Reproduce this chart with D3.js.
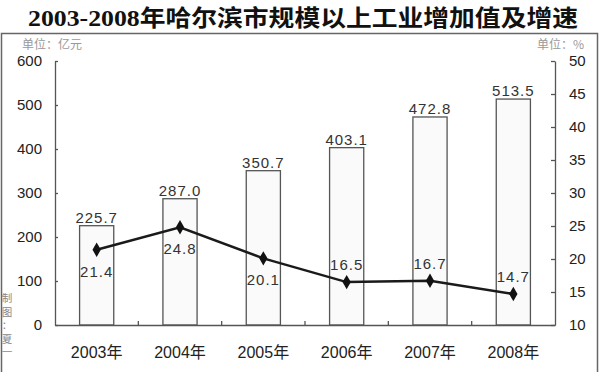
<!DOCTYPE html>
<html>
<head>
<meta charset="utf-8">
<script src="https://cdn.jsdelivr.net/npm/d3@7"></script>
<style>
body { margin: 0; background: #fff; }
text { font-family: "Liberation Sans", Arial, sans-serif; }
.cjk { font-family: "Noto Sans CJK SC", sans-serif; }
</style>
</head>
<body>
<svg id="chart"></svg>
<script>
var years = ["2003年", "2004年", "2005年", "2006年", "2007年", "2008年"]
var values = [225.7, 287.0, 350.7, 403.1, 472.8, 513.5]
var growth = [21.4, 24.8, 20.1, 16.5, 16.7, 14.7]
var leftTicks = [0, 100, 200, 300, 400, 500, 600]
var rightTicks = [10, 15, 20, 25, 30, 35, 40, 45, 50]

var w = 600, h = 372
var plot = {left: 55, right: 555, top: 61, bottom: 325}

var svg = d3.select("#chart").attr("width", w).attr("height", h)

// frame
svg.append("path")
    .attr("d", "M1.5," + h + " V33.5 H597.5 V" + h)
    .attr("fill", "none").attr("stroke", "#666").attr("stroke-width", 1.5)

// title
svg.append("text")
    .text("2003-2008年哈尔滨市规模以上工业增加值及增速")
    .attr("x", 28).attr("y", 26)
    .attr("textLength", 550).attr("lengthAdjust", "spacingAndGlyphs")
    .style("font-family", "'Liberation Serif', 'Noto Sans CJK SC', serif")
    .style("font-size", "23px").style("font-weight", "bold").attr("fill", "#111")

svg.append("text").text("单位：亿元").classed("cjk", true)
    .attr("x", 22).attr("y", 49).style("font-size", "12px").attr("fill", "#999")
svg.append("text").text("单位：%").classed("cjk", true)
    .attr("x", 584).attr("y", 49).attr("text-anchor", "end")
    .style("font-size", "12px").attr("fill", "#999")

var xScale = d3.scaleBand()
    .domain(years)
    .range([plot.left, plot.right])
    .paddingInner(0.59).paddingOuter(0.295)

var yLeft = d3.scaleLinear().domain([0, 600]).range([plot.bottom, plot.top])
var yRight = d3.scaleLinear().domain([10, 50]).range([plot.bottom, plot.top])

// bars
svg.append("g").selectAll("rect")
    .data(values)
    .enter()
    .append("rect")
    .attr("x", function(d, i) { return xScale(years[i]) })
    .attr("y", function(d) { return yLeft(d) })
    .attr("width", xScale.bandwidth())
    .attr("height", function(d) { return plot.bottom - yLeft(d) })
    .attr("fill", "#fafafa")
    .attr("stroke", "#555").attr("stroke-width", 1.3)

svg.append("g").selectAll("text")
    .data(values)
    .enter()
    .append("text")
    .text(function(d) { return d3.format(".1f")(d) })
    .attr("x", function(d, i) { return xScale(years[i]) + xScale.bandwidth() / 2 })
    .attr("y", function(d) { return yLeft(d) - 3 })
    .attr("text-anchor", "middle")
    .style("font-size", "15px").style("letter-spacing", "1px")
    .attr("fill", "#333")

// axes
var axisLeft = d3.axisLeft(yLeft).tickValues(leftTicks).tickSizeInner(-3).tickSizeOuter(0).tickPadding(13)
var gl = svg.append("g").attr("transform", "translate(" + plot.left + ",0)").call(axisLeft)

var axisRight = d3.axisRight(yRight).tickValues(rightTicks).tickSizeInner(-4).tickSizeOuter(0).tickPadding(14)
var gr = svg.append("g").attr("transform", "translate(" + plot.right + ",0)").call(axisRight)

var axisBottom = d3.axisBottom(xScale).tickSize(0).tickPadding(22)
var gb = svg.append("g").attr("transform", "translate(0," + plot.bottom + ")").call(axisBottom)

// small ticks between categories
svg.append("g").selectAll("line")
    .data(years.slice(1))
    .enter()
    .append("line")
    .attr("x1", function(d) { return xScale(d) - xScale.step() * xScale.paddingInner() / 2 })
    .attr("x2", function(d) { return xScale(d) - xScale.step() * xScale.paddingInner() / 2 })
    .attr("y1", plot.bottom).attr("y2", plot.bottom - 4)
    .attr("stroke", "#555").attr("stroke-width", 1.3)

;[gl, gr, gb].forEach(function(g) {
    g.selectAll(".domain").attr("stroke", "#555").attr("stroke-width", 1.3)
    g.selectAll(".tick line").attr("stroke", "#555").attr("stroke-width", 1.3)
    g.selectAll(".tick text").attr("fill", "#222")
        .style("font-size", "15px").style("font-family", "'Liberation Sans', Arial, sans-serif")
})
gb.selectAll(".tick text").style("font-size", "16px")
    .style("font-family", "'Liberation Sans', 'Noto Sans CJK SC', sans-serif")

// growth line
var cx = function(i) { return xScale(years[i]) + xScale.bandwidth() / 2 }
var line = d3.line()
    .x(function(d, i) { return cx(i) })
    .y(function(d) { return yRight(d) })

svg.append("path")
    .datum(growth)
    .attr("d", line)
    .attr("fill", "none").attr("stroke", "#1a1a1a").attr("stroke-width", 2.5)

svg.append("g").selectAll("path")
    .data(growth)
    .enter()
    .append("path")
    .attr("d", d3.symbol().type(d3.symbolDiamond).size(60))
    .attr("transform", function(d, i) { return "translate(" + cx(i) + "," + yRight(d) + ")" })
    .attr("fill", "#111")

svg.append("g").selectAll("text")
    .data(growth)
    .enter()
    .append("text")
    .text(function(d) { return d3.format(".1f")(d) })
    .attr("x", function(d, i) { return cx(i) })
    .attr("y", function(d) { return d > 18 ? yRight(d) + 27 : yRight(d) - 12 })
    .attr("text-anchor", "middle")
    .style("font-size", "15px").style("letter-spacing", "1px")
    .attr("fill", "#333")

// credit, vertical
var credit = ["制", "图", "：", "夏", "一"]
svg.append("g").selectAll("text")
    .data(credit)
    .enter()
    .append("text")
    .text(function(d) { return d })
    .classed("cjk", true)
    .attr("x", 7).attr("y", function(d, i) { return 302 + i * 13.5 })
    .attr("text-anchor", "middle")
    .style("font-size", "10.5px").attr("fill", "#888")
</script>
</body>
</html>
